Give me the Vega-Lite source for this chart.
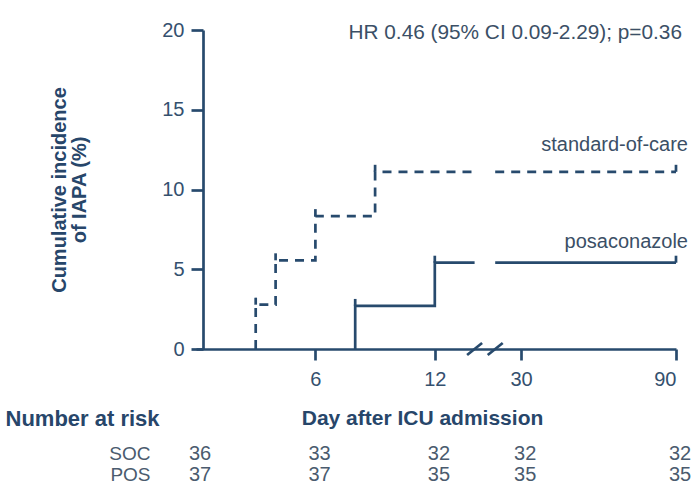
{
  "$schema": "https://vega.github.io/schema/vega-lite/v6.json",
  "background": "white",
  "padding": {"left": 5, "top": 20, "right": 0, "bottom": 0},
  "config": {
    "font": "Liberation Sans",
    "view": {"stroke": null},
    "concat": {"spacing": 18}
  },
  "datasets": {
    "curves": [
      {"group": "SOC", "segment": "SOC-a", "i": 0, "day": 3, "cuminc": 0},
      {"group": "SOC", "segment": "SOC-a", "i": 1, "day": 3, "cuminc": 2.78},
      {"group": "SOC", "segment": "SOC-a", "i": 2, "day": 4, "cuminc": 2.78},
      {"group": "SOC", "segment": "SOC-a", "i": 3, "day": 4, "cuminc": 5.56},
      {"group": "SOC", "segment": "SOC-a", "i": 4, "day": 6, "cuminc": 5.56},
      {"group": "SOC", "segment": "SOC-a", "i": 5, "day": 6, "cuminc": 8.33},
      {"group": "SOC", "segment": "SOC-a", "i": 6, "day": 9, "cuminc": 8.33},
      {"group": "SOC", "segment": "SOC-a", "i": 7, "day": 9, "cuminc": 11.11},
      {"group": "SOC", "segment": "SOC-a", "i": 8, "day": 14, "cuminc": 11.11},
      {"group": "SOC", "segment": "SOC-b", "i": 9, "day": 20, "cuminc": 11.11},
      {"group": "SOC", "segment": "SOC-b", "i": 10, "day": 90, "cuminc": 11.11},
      {"group": "POS", "segment": "POS-a", "i": 0, "day": 8, "cuminc": 0},
      {"group": "POS", "segment": "POS-a", "i": 1, "day": 8, "cuminc": 2.70},
      {"group": "POS", "segment": "POS-a", "i": 2, "day": 12, "cuminc": 2.70},
      {"group": "POS", "segment": "POS-a", "i": 3, "day": 12, "cuminc": 5.41},
      {"group": "POS", "segment": "POS-a", "i": 4, "day": 14, "cuminc": 5.41},
      {"group": "POS", "segment": "POS-b", "i": 5, "day": 20, "cuminc": 5.41},
      {"group": "POS", "segment": "POS-b", "i": 6, "day": 90, "cuminc": 5.41}
    ],
    "marks": [
      {"group": "SOC", "day": 3, "cuminc": 2.78},
      {"group": "SOC", "day": 4, "cuminc": 5.56},
      {"group": "SOC", "day": 6, "cuminc": 8.33},
      {"group": "SOC", "day": 9, "cuminc": 11.11},
      {"group": "SOC", "day": 90, "cuminc": 11.11},
      {"group": "POS", "day": 8, "cuminc": 2.70},
      {"group": "POS", "day": 12, "cuminc": 5.41},
      {"group": "POS", "day": 90, "cuminc": 5.41}
    ],
    "breaks": [
      {"day": 14, "cuminc": 0},
      {"day": 20, "cuminc": 0}
    ],
    "labels": [
      {"day": 90, "cuminc": 12.8, "label": "standard-of-care"},
      {"day": 90, "cuminc": 6.7, "label": "posaconazole"}
    ],
    "stats": [
      {"day": 90, "cuminc": 19.8, "label": "HR 0.46 (95% CI 0.09-2.29); p=0.36"}
    ],
    "risk": [
      {"group": "SOC", "day": 0, "n": 36},
      {"group": "SOC", "day": 6, "n": 33},
      {"group": "SOC", "day": 12, "n": 32},
      {"group": "SOC", "day": 30, "n": 32},
      {"group": "SOC", "day": 90, "n": 32},
      {"group": "POS", "day": 0, "n": 37},
      {"group": "POS", "day": 6, "n": 37},
      {"group": "POS", "day": 12, "n": 35},
      {"group": "POS", "day": 30, "n": 35},
      {"group": "POS", "day": 90, "n": 35}
    ]
  },
  "vconcat": [
    {
      "width": 480,
      "height": 319,
      "layer": [
        {
          "data": {"name": "curves"},
          "mark": {"type": "line", "strokeWidth": 2.7, "color": "#274a6d"},
          "encoding": {
            "x": {
              "field": "day", "type": "quantitative",
              "scale": {"domain": [0, 14, 20, 90], "range": [0, 278.6, 299.2, 480], "nice": false, "zero": false},
              "axis": {
                "title": null, "values": [6, 12, 30, 90], "grid": false,
                "domainColor": "#274a6d", "domainWidth": 2.7,
                "tickColor": "#274a6d", "tickWidth": 2.7, "tickSize": 11,
                "labelFontSize": 20, "labelColor": "#34506e", "labelPadding": 9
              }
            },
            "y": {
              "field": "cuminc", "type": "quantitative",
              "scale": {"domain": [0, 20], "nice": false},
              "axis": {
                "values": [0, 5, 10, 15, 20], "grid": false, "offset": -7,
                "domainColor": "#274a6d", "domainWidth": 2.7,
                "tickColor": "#274a6d", "tickWidth": 2.7, "tickSize": 12,
                "labelFontSize": 20, "labelColor": "#34506e", "labelPadding": 7,
                "title": ["Cumulative incidence", "of IAPA (%)"],
                "titleFontSize": 20, "titleFontWeight": "bold", "titleColor": "#27466a",
                "titlePadding": 72, "titleLineHeight": 20
              }
            },
            "detail": {"field": "segment"},
            "order": {"field": "i"},
            "strokeDash": {
              "field": "group", "type": "nominal",
              "scale": {"domain": ["SOC", "POS"], "range": [[9, 7], [1, 0]]},
              "legend": null
            }
          }
        },
        {
          "data": {"name": "marks"},
          "mark": {"type": "tick", "orient": "vertical", "size": 7, "thickness": 2.7, "yOffset": -3.5, "color": "#274a6d", "opacity": 1},
          "encoding": {
            "x": {"field": "day", "type": "quantitative"},
            "y": {"field": "cuminc", "type": "quantitative"}
          }
        },
        {
          "data": {"name": "breaks"},
          "mark": {"type": "point", "shape": "M-1,0.8L1,-0.8", "size": 225, "filled": false, "strokeWidth": 2.7, "color": "#274a6d", "opacity": 1},
          "encoding": {
            "x": {"field": "day", "type": "quantitative"},
            "y": {"field": "cuminc", "type": "quantitative"}
          }
        },
        {
          "data": {"name": "labels"},
          "mark": {"type": "text", "align": "right", "baseline": "middle", "dx": 12, "fontSize": 20, "color": "#3b4f66"},
          "encoding": {
            "x": {"field": "day", "type": "quantitative"},
            "y": {"field": "cuminc", "type": "quantitative"},
            "text": {"field": "label"}
          }
        },
        {
          "data": {"name": "stats"},
          "mark": {"type": "text", "align": "right", "baseline": "middle", "dx": 6, "fontSize": 20.8, "color": "#3b4f66"},
          "encoding": {
            "x": {"field": "day", "type": "quantitative"},
            "y": {"field": "cuminc", "type": "quantitative"},
            "text": {"field": "label"}
          }
        }
      ]
    },
    {
      "width": 480,
      "height": 42,
      "data": {"name": "risk"},
      "mark": {"type": "text", "align": "left", "baseline": "middle", "dx": -7, "fontSize": 20, "color": "#4a5b6e"},
      "encoding": {
        "x": {
          "field": "day", "type": "quantitative",
          "scale": {"domain": [0, 14, 20, 90], "range": [0, 278.6, 299.2, 480], "nice": false, "zero": false},
          "axis": {
            "orient": "top", "labels": false, "ticks": false, "domain": false, "grid": false,
            "title": "Day after ICU admission", "titleFontSize": 21, "titleFontWeight": "bold",
            "titleColor": "#27466a", "titleX": 226, "titleY": -25, "titleBaseline": "middle", "titleAlign": "center"
          }
        },
        "y": {
          "field": "group", "type": "nominal", "sort": ["SOC", "POS"],
          "axis": {
            "ticks": false, "domain": false, "grid": false,
            "labelFontSize": 19, "labelColor": "#4a5b6e", "labelPadding": 46,
            "title": "Number at risk", "titleAngle": 0, "titleAlign": "left", "titleBaseline": "middle",
            "titleX": -191, "titleY": -25, "titleFontSize": 22, "titleFontWeight": "bold", "titleColor": "#27466a"
          }
        },
        "text": {"field": "n"}
      }
    }
  ]
}
